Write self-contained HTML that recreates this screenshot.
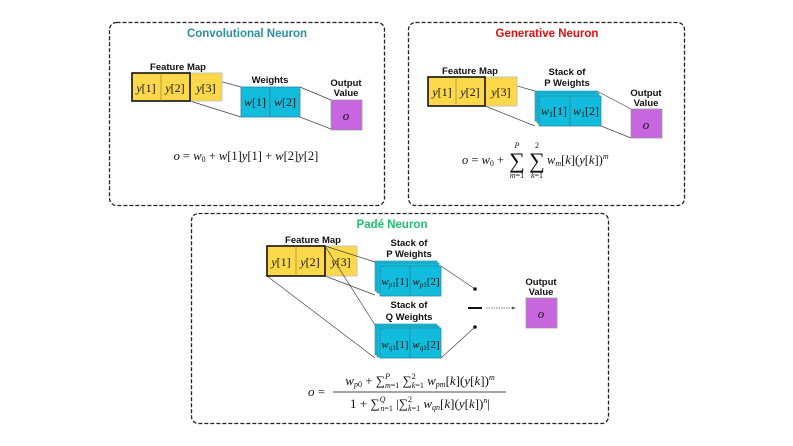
<!DOCTYPE html>
<html><head><meta charset="utf-8"><style>
html,body{margin:0;padding:0;background:#fff;}
svg{display:block;}
.t{font-family:"Liberation Sans",sans-serif;font-weight:bold;font-size:9.5px;text-anchor:middle;fill:#111;}
.m{font-family:"Liberation Serif",serif;font-style:italic;fill:#111;}
.r{font-style:normal;}
</style></head><body>
<svg width="793" height="446" viewBox="0 0 793 446" xmlns="http://www.w3.org/2000/svg">
<g fill="none" stroke="#222" stroke-width="1.3" stroke-dasharray="4,2">
<rect x="109.5" y="22.5" width="275" height="183" rx="7"/>
<rect x="408.5" y="22.5" width="276" height="183" rx="7"/>
<rect x="191.5" y="213.5" width="417" height="210" rx="7"/>
</g>
<text x="247" y="37" class="t" style="font-size:11.5px;fill:#2a8fa0">Convolutional Neuron</text>
<text x="547" y="37" class="t" style="font-size:11.5px;fill:#e01010">Generative Neuron</text>
<text x="392" y="228" class="t" style="font-size:11.5px;fill:#1fc070">Padé Neuron</text>

<!-- Box1 -->
<g stroke="#444" stroke-width="0.7">
<line x1="190" y1="73" x2="241" y2="87"/><line x1="190" y1="101" x2="241" y2="117"/>
<line x1="300" y1="87" x2="331" y2="100"/><line x1="300" y1="117" x2="331" y2="129"/>
</g>
<rect x="190" y="73" width="32" height="28" fill="#fcd84a" stroke="#bbb" stroke-width="0.8"/>
<rect x="132" y="73" width="58" height="28" fill="#fcd84a" stroke="#111" stroke-width="1.6"/>
<line x1="161" y1="73" x2="161" y2="101" stroke="#8a7a30" stroke-width="0.6"/>
<text x="178" y="70" class="t">Feature Map</text>
<text x="146" y="92" class="m" font-size="12" text-anchor="middle">y<tspan class="r">[1]</tspan></text>
<text x="175" y="92" class="m" font-size="12" text-anchor="middle">y<tspan class="r">[2]</tspan></text>
<text x="206" y="92" class="m" font-size="12" text-anchor="middle">y<tspan class="r">[3]</tspan></text>
<text x="270" y="83" class="t">Weights</text>
<rect x="241" y="87" width="59" height="30" fill="#12bcdc" stroke="#2a8aa0" stroke-width="0.8"/>
<line x1="270" y1="87" x2="270" y2="117" stroke="#2a7080" stroke-width="0.6"/>
<text x="255" y="106" class="m" font-size="12" text-anchor="middle">w<tspan class="r">[1]</tspan></text>
<text x="285" y="106" class="m" font-size="12" text-anchor="middle">w<tspan class="r">[2]</tspan></text>
<text x="346" y="86" class="t">Output</text><text x="346" y="96" class="t">Value</text>
<rect x="331" y="100" width="31" height="30" fill="#c866e0" stroke="#999" stroke-width="0.8"/>
<text x="346" y="120" class="m" font-size="13" text-anchor="middle">o</text>
<text x="246" y="160" class="m" font-size="12.5" text-anchor="middle">o <tspan class="r">=</tspan> w<tspan font-size="8" dy="2" class="r">0</tspan><tspan dy="-2" class="r"> + </tspan>w<tspan class="r">[1]</tspan>y<tspan class="r">[1] + </tspan>w<tspan class="r">[2]</tspan>y<tspan class="r">[2]</tspan></text>

<!-- Box2 -->
<g stroke="#444" stroke-width="0.7">
<line x1="485" y1="77" x2="535" y2="91"/><line x1="485" y1="106" x2="535" y2="126"/>
<line x1="597" y1="91" x2="631" y2="109"/><line x1="601" y1="126" x2="631" y2="138"/>
</g>
<rect x="485" y="77" width="32" height="29" fill="#fcd84a" stroke="#bbb" stroke-width="0.8"/>
<rect x="428" y="77" width="57" height="29" fill="#fcd84a" stroke="#111" stroke-width="1.6"/>
<line x1="456" y1="77" x2="456" y2="106" stroke="#8a7a30" stroke-width="0.6"/>
<text x="470" y="74" class="t">Feature Map</text>
<text x="442" y="96" class="m" font-size="12" text-anchor="middle">y<tspan class="r">[1]</tspan></text>
<text x="470" y="96" class="m" font-size="12" text-anchor="middle">y<tspan class="r">[2]</tspan></text>
<text x="501" y="96" class="m" font-size="12" text-anchor="middle">y<tspan class="r">[3]</tspan></text>
<text x="567" y="75" class="t">Stack of</text><text x="567" y="86" class="t">P Weights</text>
<rect x="535" y="91" width="62" height="30" fill="#12bcdc" stroke="#2a8aa0" stroke-width="0.6"/>
<rect x="537" y="93" width="62" height="30" fill="#12bcdc" stroke="#2a8aa0" stroke-width="0.6"/>
<rect x="539" y="96" width="62" height="30" fill="#12bcdc" stroke="#2a8aa0" stroke-width="0.8"/>
<line x1="570" y1="96" x2="570" y2="126" stroke="#2a7080" stroke-width="0.6"/>
<text x="554" y="115" class="m" font-size="12" text-anchor="middle">w<tspan font-size="8" dy="2" class="r">1</tspan><tspan dy="-2" class="r">[1]</tspan></text>
<text x="586" y="115" class="m" font-size="12" text-anchor="middle">w<tspan font-size="8" dy="2" class="r">1</tspan><tspan dy="-2" class="r">[2]</tspan></text>
<text x="646" y="96" class="t">Output</text><text x="646" y="106" class="t">Value</text>
<rect x="631" y="109" width="31" height="29" fill="#c866e0" stroke="#999" stroke-width="0.8"/>
<text x="646" y="129" class="m" font-size="13" text-anchor="middle">o</text>
<g class="m" font-size="12.5">
<text x="462" y="164">o <tspan class="r">=</tspan> w<tspan font-size="8" dy="2" class="r">0</tspan><tspan dy="-2" class="r"> +</tspan></text>
<text x="517" y="168" font-size="22" text-anchor="middle" font-style="normal">∑</text>
<text x="537" y="168" font-size="22" text-anchor="middle" font-style="normal">∑</text>
<text x="517" y="148" font-size="8" text-anchor="middle">P</text>
<text x="537" y="148" font-size="8" text-anchor="middle" class="r">2</text>
<text x="517" y="178" font-size="8" text-anchor="middle">m<tspan class="r">=1</tspan></text>
<text x="537" y="178" font-size="8" text-anchor="middle">k<tspan class="r">=1</tspan></text>
<text x="547" y="164">w<tspan font-size="8" dy="2">m</tspan><tspan dy="-2" class="r">[</tspan>k<tspan class="r">](</tspan>y<tspan class="r">[</tspan>k<tspan class="r">])</tspan><tspan font-size="8" dy="-5">m</tspan></text>
</g>

<!-- Box3 -->
<g stroke="#444" stroke-width="0.7">
<line x1="325" y1="276" x2="375" y2="295"/>
<line x1="267" y1="276" x2="375" y2="358"/>
<line x1="441" y1="266" x2="475" y2="289"/><line x1="441" y1="358" x2="475" y2="327"/>
</g>
<rect x="325" y="246" width="32" height="30" fill="#fcd84a" stroke="#bbb" stroke-width="0.8"/>
<rect x="267" y="246" width="58" height="30" fill="#fcd84a" stroke="#111" stroke-width="1.6"/>
<line x1="296" y1="246" x2="296" y2="276" stroke="#8a7a30" stroke-width="0.6"/>
<text x="313" y="243" class="t">Feature Map</text>
<text x="281" y="266" class="m" font-size="12" text-anchor="middle">y<tspan class="r">[1]</tspan></text>
<text x="310" y="266" class="m" font-size="12" text-anchor="middle">y<tspan class="r">[2]</tspan></text>
<text x="341" y="266" class="m" font-size="12" text-anchor="middle">y<tspan class="r">[3]</tspan></text>
<g stroke="#444" stroke-width="0.7"><line x1="325" y1="246" x2="375" y2="325"/><line x1="325" y1="246" x2="375" y2="262"/></g>
<text x="409" y="246" class="t">Stack of</text><text x="409" y="257" class="t">P Weights</text>
<rect x="375" y="261" width="62" height="30" fill="#12bcdc" stroke="#2a8aa0" stroke-width="0.6"/>
<rect x="377" y="263" width="62" height="30" fill="#12bcdc" stroke="#2a8aa0" stroke-width="0.6"/>
<rect x="380" y="266" width="61" height="30" fill="#12bcdc" stroke="#2a8aa0" stroke-width="0.8"/>
<line x1="410" y1="266" x2="410" y2="296" stroke="#2a7080" stroke-width="0.6"/>
<text x="395" y="285" class="m" font-size="11" text-anchor="middle">w<tspan font-size="7" dy="2">p<tspan class="r">1</tspan></tspan><tspan dy="-2" class="r">[1]</tspan></text>
<text x="426" y="285" class="m" font-size="11" text-anchor="middle">w<tspan font-size="7" dy="2">p<tspan class="r">1</tspan></tspan><tspan dy="-2" class="r">[2]</tspan></text>
<text x="409" y="308" class="t">Stack of</text><text x="409" y="320" class="t">Q Weights</text>
<rect x="375" y="324" width="62" height="31" fill="#12bcdc" stroke="#2a8aa0" stroke-width="0.6"/>
<rect x="377" y="326" width="62" height="31" fill="#12bcdc" stroke="#2a8aa0" stroke-width="0.6"/>
<rect x="380" y="328" width="61" height="30" fill="#12bcdc" stroke="#2a8aa0" stroke-width="0.8"/>
<line x1="410" y1="328" x2="410" y2="358" stroke="#2a7080" stroke-width="0.6"/>
<text x="395" y="348" class="m" font-size="11" text-anchor="middle">w<tspan font-size="7" dy="2">q<tspan class="r">1</tspan></tspan><tspan dy="-2" class="r">[1]</tspan></text>
<text x="426" y="348" class="m" font-size="11" text-anchor="middle">w<tspan font-size="7" dy="2">q<tspan class="r">1</tspan></tspan><tspan dy="-2" class="r">[2]</tspan></text>
<circle cx="475" cy="289" r="1.8" fill="#111"/><circle cx="475" cy="327" r="1.8" fill="#111"/>
<line x1="468" y1="308" x2="482" y2="308" stroke="#111" stroke-width="2"/>
<line x1="486" y1="308" x2="514" y2="308" stroke="#555" stroke-width="0.7" stroke-dasharray="1.5,1"/>
<polygon points="516,308 512,306.5 512,309.5" fill="#555"/>
<text x="541" y="285" class="t">Output</text><text x="541" y="295" class="t">Value</text>
<rect x="526" y="298" width="31" height="30" fill="#c866e0" stroke="#999" stroke-width="0.8"/>
<text x="541" y="318" class="m" font-size="13" text-anchor="middle">o</text>
<g class="m" font-size="13">
<text x="308" y="396">o <tspan class="r">=</tspan></text>
<line x1="333" y1="392" x2="506" y2="392" stroke="#111" stroke-width="0.8"/>
<text x="420" y="385" text-anchor="middle">w<tspan font-size="8" dy="2">p<tspan class="r">0</tspan></tspan><tspan dy="-2" class="r"> + ∑</tspan><tspan font-size="8" dy="-6">P</tspan><tspan font-size="8" dx="-5" dy="9">m<tspan class="r">=1</tspan></tspan><tspan dy="-3" class="r"> ∑</tspan><tspan font-size="8" dy="-6" class="r">2</tspan><tspan font-size="8" dx="-4" dy="9">k<tspan class="r">=1</tspan></tspan><tspan dy="-3"> w</tspan><tspan font-size="8" dy="2">pm</tspan><tspan dy="-2" class="r">[</tspan>k<tspan class="r">](</tspan>y<tspan class="r">[</tspan>k<tspan class="r">])</tspan><tspan font-size="8" dy="-5">m</tspan></text>
<text x="420" y="408" text-anchor="middle"><tspan class="r">1 + ∑</tspan><tspan font-size="8" dy="-6">Q</tspan><tspan font-size="8" dx="-5" dy="9">n<tspan class="r">=1</tspan></tspan><tspan dy="-3" class="r"> |∑</tspan><tspan font-size="8" dy="-6" class="r">2</tspan><tspan font-size="8" dx="-4" dy="9">k<tspan class="r">=1</tspan></tspan><tspan dy="-3"> w</tspan><tspan font-size="8" dy="2">qn</tspan><tspan dy="-2" class="r">[</tspan>k<tspan class="r">](</tspan>y<tspan class="r">[</tspan>k<tspan class="r">])</tspan><tspan font-size="8" dy="-5">n</tspan><tspan dy="5" class="r">|</tspan></text>
</g>
</svg>
</body></html>
